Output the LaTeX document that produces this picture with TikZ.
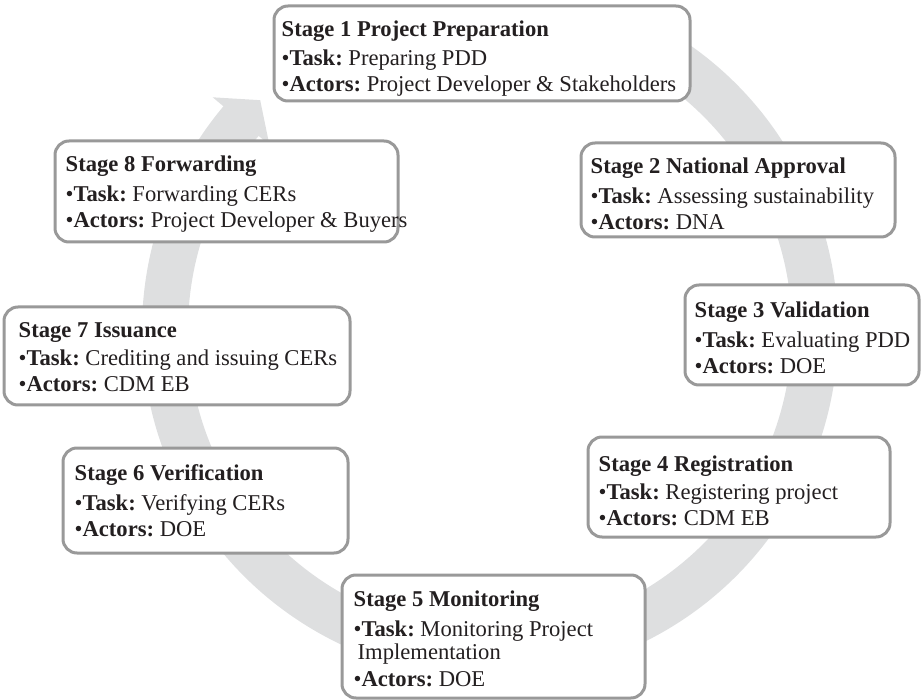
\documentclass[tikz,border=0pt]{standalone}
\usepackage{fontspec}
\setmainfont{Liberation Serif}
\frenchspacing
\definecolor{ringgray}{HTML}{DEDFE0}
\definecolor{boxgray}{HTML}{999999}
\definecolor{ink}{HTML}{231F20}
\tikzset{
  stagebox/.style={draw=boxgray, line width=3pt, rounded corners=14pt, fill=white,
    inner sep=0pt},
  stagetext/.style={anchor=west, align=left, inner sep=0pt, text=ink,
    font=\fontsize{22.6}{26}\selectfont},
}
\begin{document}
\begin{tikzpicture}[x=1pt,y=-1pt]
\useasboundingbox (0,0) rectangle (921,700);
\coordinate (c) at (490,330);

% circular process arrow, running clockwise and ending in a head at upper left
\fill[ringgray] ([shift={(-65:348)}]c) arc[start angle=-65, end angle=220, radius=348]
  -- ([shift={(220:362)}]c) -- ([shift={(225:325)}]c) -- ([shift={(220:288)}]c)
  -- ([shift={(220:302)}]c) arc[start angle=220, end angle=-65, radius=302] -- cycle;

% stage boxes
\node[stagebox, minimum width=416, minimum height=95]  (s1) at (482,53.5) {};
\node[stagebox, minimum width=314, minimum height=94]  (s2) at (738,190) {};
\node[stagebox, minimum width=234, minimum height=100] (s3) at (802,335) {};
\node[stagebox, minimum width=302, minimum height=100] (s4) at (739,487) {};
\node[stagebox, minimum width=303, minimum height=123] (s5) at (493.5,636.5) {};
\node[stagebox, minimum width=285, minimum height=105] (s6) at (205.5,500.5) {};
\node[stagebox, minimum width=346, minimum height=98]  (s7) at (177,356) {};
\node[stagebox, minimum width=343, minimum height=101] (s8) at (226.5,191.5) {};

% stage texts
\node[stagetext] (t1) at ([xshift=9pt,yshift=-5pt]s1.west) {\textbf{Stage 1 Project Preparation}\\[3pt]
  •\textbf{Task:} Preparing PDD\\ •\textbf{Actors:} Project Developer \& Stakeholders};
\node[stagetext] (t2) at ([xshift=11pt,yshift=-4pt]s2.west) {\textbf{Stage 2 National Approval}\\[4pt]
  •\textbf{Task:} Assessing sustainability\\ •\textbf{Actors:} DNA};
\node[stagetext] (t3) at ([xshift=11pt,yshift=-3pt]s3.west) {\textbf{Stage 3 Validation}\\[4pt]
  •\textbf{Task:} Evaluating PDD\\ •\textbf{Actors:} DOE};
\node[stagetext] (t4) at ([xshift=12pt,yshift=-4pt]s4.west) {\textbf{Stage 4 Registration}\\[2pt]
  •\textbf{Task:} Registering project\\ •\textbf{Actors:} CDM EB};
\node[stagetext] (t5) at ([xshift=13pt,yshift=-2.5pt]s5.west) {\textbf{Stage 5 Monitoring}\\[4pt]
  •\textbf{Task:} Monitoring Project\\[-3.5pt] \hspace*{4pt}Implementation\\[1.5pt] •\textbf{Actors:} DOE};
\node[stagetext] (t6) at ([xshift=13pt,yshift=0pt]s6.west) {\textbf{Stage 6 Verification}\\[4pt]
  •\textbf{Task:} Verifying CERs\\ •\textbf{Actors:} DOE};
\node[stagetext] (t7) at ([xshift=16pt,yshift=-1pt]s7.west) {\textbf{Stage 7 Issuance}\\[2pt]
  •\textbf{Task:} Crediting and issuing CERs\\ •\textbf{Actors:} CDM EB};
\node[stagetext] (t8) at ([xshift=12pt,yshift=-2.5pt]s8.west) {\textbf{Stage 8 Forwarding}\\[4pt]
  •\textbf{Task:} Forwarding CERs\\ •\textbf{Actors:} Project Developer \& Buyers};
\end{tikzpicture}
\end{document}
